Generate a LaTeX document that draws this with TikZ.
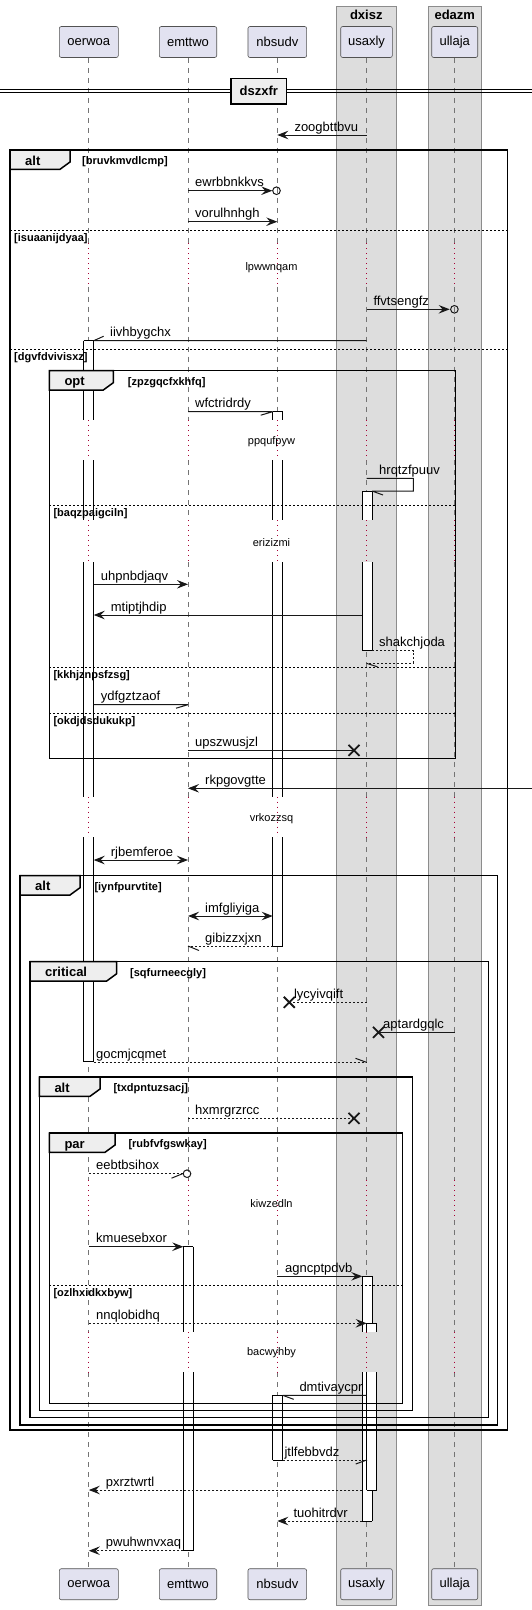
\documentclass[tikz,border=0pt]{standalone}
\usepackage{fontspec}
\setmainfont{Liberation Sans}
\usetikzlibrary{arrows.meta,calc,fit}
\definecolor{partfill}{HTML}{E2E2F0}
\definecolor{boxfill}{HTML}{DDDDDD}
\definecolor{tabfill}{HTML}{EEEEEE}
\definecolor{ink}{HTML}{181818}
\definecolor{delayc}{HTML}{A80036}
\tikzset{
 part/.style={draw=ink!75, line width=0.6pt, fill=partfill, rounded corners=2pt, minimum height=31pt, inner sep=0pt, font=\fontsize{13}{15}\selectfont},
 life/.style={draw=ink!60, line width=0.8pt, dash pattern=on 5pt off 5pt},
 dly/.style={draw=delayc, line width=1pt, dash pattern=on 1pt off 4pt},
 msg/.style={draw=ink, line width=1pt},
 dmsg/.style={msg, dash pattern=on 2pt off 2pt},
 arr/.style={-{Stealth[length=11pt,width=8.5pt,inset=4pt]}},
 darr/.style={{Stealth[length=11pt,width=8.5pt,inset=4pt]}-{Stealth[length=11pt,width=8.5pt,inset=4pt]}},
 lab/.style={inner sep=0pt, anchor=base west, font=\fontsize{13}{15}\selectfont, text=black},
 dlab/.style={inner sep=0pt, font=\fontsize{11}{13}\selectfont},
 kw/.style={inner sep=0pt, anchor=base west, font=\fontsize{13}{15}\selectfont\bfseries},
 cond/.style={inner sep=0pt, anchor=base west, font=\fontsize{11}{13}\selectfont\bfseries},
 frame/.style={draw=black, line width=1.5pt},
 sepl/.style={draw=black, line width=1pt, dash pattern=on 2pt off 2pt},
 actl/.style={draw=black, line width=1pt},
 xm/.style={draw=ink, line width=1.8pt},
 boxl/.style={draw=black!45, line width=1pt},
 actnode/.style={inner sep=0pt, outer sep=0pt}
}
\newcommand\grpframe[9]{%
 \draw[frame] (#1,#2) rectangle (#3,#4);
 \draw[frame,fill=tabfill] (#1,#2) -- (#5,#2) -- (#5,#2+12) -- (#5-10,#2+19.3) -- (#1,#2+19.3) -- cycle;
 \node[kw] (k#9) at (#1+15,#2+15) {#6};
 \node[cond] (c#9) at (#7,#2+14.3) {[#8]};
}
\newcommand\sepline[5]{%
 \draw[sepl] (#1,#3) -- (#2,#3);
 \node[cond] (#5) at (#1+4,#3+10.8) {[#4]};
}
\newcommand\actdef[5]{\node[actnode,fit={(#2,#4) (#3,#5)}] (#1) {};}
\newcommand\actseg[3]{%
 \fill[white] (#1.west |- 0,#2) rectangle (#1.east |- 0,#3);
 \draw[actl] (#1.west |- 0,#2) -- (#1.west |- 0,#3) (#1.east |- 0,#2) -- (#1.east |- 0,#3);
}
\newcommand\actcap[2]{\draw[actl] (#1.west |- 0,#2) -- (#1.east |- 0,#2);}
\newcommand\xcross[1]{\draw[xm] (#1) +(-5.5,-5.5) -- +(5.5,5.5) (#1) +(-5.5,5.5) -- +(5.5,-5.5);}
\begin{document}
\begin{tikzpicture}[x=1pt,y=-1pt]
\useasboundingbox (0,0) rectangle (532,1610);
\fill[white] (0,0) rectangle (532,1610);
% boxes
\fill[boxfill] (336.3,6) rectangle (396.3,1605);
\draw[boxl] (336.3,6) rectangle (396.3,1605);
\fill[boxfill] (428,6) rectangle (481.7,1605);
\draw[boxl] (428,6) rectangle (481.7,1605);
\node[kw,anchor=base] (g1) at (366.3,19) {dxisz};
\node[kw,anchor=base] (g2) at (454.8,19) {edazm};
% participants
\node[part,minimum width=59pt] (pA) at (88.8,42) {oerwoa};
\node[part,minimum width=57.4pt] (pB) at (188,42) {emttwo};
\node[part,minimum width=58.7pt] (pC) at (277.3,42) {nbsudv};
\node[part,minimum width=51.6pt] (pD) at (366.5,42) {usaxly};
\node[part,minimum width=46pt] (pE) at (454.7,42) {ullaja};
\node[part,minimum width=59pt] (qA) at (88.8,1584.2) {oerwoa};
\node[part,minimum width=57.4pt] (qB) at (188,1584.2) {emttwo};
\node[part,minimum width=58.7pt] (qC) at (277.3,1584.2) {nbsudv};
\node[part,minimum width=51.6pt] (qD) at (366.5,1584.2) {usaxly};
\node[part,minimum width=46pt] (qE) at (454.7,1584.2) {ullaja};
% lifelines
\foreach \p/\q in {pA/qA,pB/qB,pC/qC,pD/qD,pE/qE}{
 \draw[life] (\p.south) -- (\p |- 0,243.3) (\p |- 0,286.7) -- (\p |- 0,420) (\p |- 0,460) -- (\p |- 0,520) (\p |- 0,562) -- (\p |- 0,796.5) (\p |- 0,837.3) -- (\p |- 0,1180) (\p |- 0,1220) -- (\p |- 0,1331.7) (\p |- 0,1372.3) -- (\q.north);
 \draw[dly] (\p |- 0,243.3) -- (\p |- 0,286.7) (\p |- 0,420) -- (\p |- 0,460) (\p |- 0,520) -- (\p |- 0,562) (\p |- 0,796.5) -- (\p |- 0,837.3) (\p |- 0,1180) -- (\p |- 0,1220) (\p |- 0,1331.7) -- (\p |- 0,1372.3);
}
% divider
\draw[draw=black,line width=1pt] (0,89.3) -- (532,89.3) (0,92.7) -- (532,92.7);
\node[draw=black,line width=1.5pt,fill=tabfill,minimum width=55.7pt,minimum height=25.3pt,inner sep=0pt,font=\fontsize{13}{15}\selectfont\bfseries] (dv) at (258.8,91.3) {dszxfr};
% activations
\actdef{aA}{83.7}{93.7}{340.7}{1061.7}
\actdef{aC1}{272.7}{282.7}{411.7}{946}
\actdef{aD1}{362.3}{372}{491}{650.7}
\actdef{aB}{183.3}{193.3}{1246.7}{1550.7}
\actdef{aD2}{362.3}{372}{1276.3}{1521}
\actdef{aD3}{366.7}{376.7}{1323.3}{1490}
\actdef{aC2}{272.7}{282.7}{1395.3}{1460}
\actseg{aA}{340.7}{420}\actseg{aA}{460}{520}\actseg{aA}{562}{796.5}\actseg{aA}{837.3}{1061.7}
\actcap{aA}{340.7}\actcap{aA}{1061.7}
\actseg{aC1}{411.7}{420}\actseg{aC1}{460}{520}\actseg{aC1}{562}{796.5}\actseg{aC1}{837.3}{946}
\actcap{aC1}{411.7}\actcap{aC1}{946}
\actseg{aD1}{491}{520}\actseg{aD1}{562}{650.7}
\actcap{aD1}{491}\actcap{aD1}{650.7}
\actseg{aB}{1246.7}{1331.7}\actseg{aB}{1372.3}{1550.7}
\actcap{aB}{1246.7}\actcap{aB}{1550.7}
\actseg{aD2}{1276.3}{1331.7}\actseg{aD2}{1372.3}{1521}
\actcap{aD2}{1276.3}\actcap{aD2}{1521}
\actseg{aD3}{1323.3}{1331.7}\actseg{aD3}{1372.3}{1490}
\actcap{aD3}{1323.3}\actcap{aD3}{1490}
\actseg{aC2}{1395.3}{1460}
\actcap{aC2}{1395.3}\actcap{aC2}{1460}
% frames
\grpframe{10}{150}{507.7}{1430}{70}{alt}{82}{bruvkmvdlcmp}{f1}
\sepline{10}{507.7}{230.7}{isuaanijdyaa}{s1}
\sepline{10}{507.7}{349.3}{dgvfdvivisxz}{s2}
\grpframe{49.3}{370.7}{455.3}{758.3}{113.3}{opt}{127.7}{zpzgqcfxkhfq}{f2}
\sepline{49.3}{455.3}{505.3}{baqzpaigciln}{s3}
\sepline{49.3}{455.3}{667.3}{kkhjznpsfzsg}{s4}
\sepline{49.3}{455.3}{713.7}{okdjdsdukukp}{s5}
\grpframe{20}{875.7}{497.7}{1425}{80}{alt}{94.3}{iynfpurvtite}{f3}
\grpframe{30}{961.7}{488.3}{1417.7}{116.7}{critical}{130}{sqfurneecgly}{f4}
\grpframe{39.3}{1077}{412.7}{1410.7}{100}{alt}{113.3}{txdpntuzsacj}{f5}
\grpframe{49.3}{1133}{402.3}{1403.3}{115}{par}{128.3}{rubfvfgswkay}{f6}
\sepline{49.3}{402.3}{1285.3}{ozlhxidkxbyw}{s6}
% delay texts
\node[dlab] (d1) at (271.5,267.7) {lpwwnqam};
\node[dlab] (d2) at (271.5,441.7) {ppqufpyw};
\node[dlab] (d3) at (271.5,542.3) {erizizmi};
\node[dlab] (d4) at (271.5,819) {vrkozzsq};
\node[dlab] (d5) at (271.5,1204) {kiwzedln};
\node[dlab] (d6) at (271.5,1352.7) {bacwyhby};
% messages
\draw[msg,arr] (pD |- 0,135) -- (pC |- 0,135);
\node[lab] (m1) at (294.3,131.2) {zoogbttbvu};
\draw[msg,arr,shorten >=5pt] (pB |- 0,190.7) -- (pC |- 0,190.7);
\draw[msg] ($(pC |- 0,190.7)+(-0.8,0)$) circle (3.8pt);
\node[lab] (m2) at (195,186.9) {ewrbbnkkvs};
\draw[msg,arr] (pB |- 0,221.7) -- (pC |- 0,221.7);
\node[lab] (m3) at (195,217.9) {vorulhnhgh};
\draw[msg,arr,shorten >=5pt] (pD |- 0,309.3) -- (pE |- 0,309.3);
\draw[msg] ($(pE |- 0,309.3)+(-0.3,0)$) circle (3.8pt);
\node[lab] (m4) at (373.3,305.5) {ffvtsengfz};
\draw[msg] (pD |- 0,340.7) -- (aA.east |- 0,340.7) (aA.east |- 0,340.7) -- +(10,-4.5);
\node[lab] (m5) at (110,336.9) {iivhbygchx};
\draw[msg] (pB |- 0,411.7) -- (aC1.west |- 0,411.7) (aC1.west |- 0,411.7) -- +(-12,3.5);
\node[lab] (m6) at (195,407.9) {wfctridrdy};
\draw[msg] (pD |- 0,478.3) -- (413.3,478.3) -- (413.3,491) -- (aD1.east |- 0,491) (aD1.east |- 0,491) -- +(11,4);
\node[lab] (m7) at (379,474.5) {hrqtzfpuuv};
\draw[msg,arr] (aA.east |- 0,584.3) -- (pB |- 0,584.3);
\node[lab] (m8) at (100.7,580.5) {uhpnbdjaqv};
\draw[msg,arr] (aD1.west |- 0,615) -- (aA.east |- 0,615);
\node[lab] (m9) at (110.7,611.2) {mtiptjhdip};
\draw[dmsg] (aD1.east |- 0,650.7) -- (413.3,650.7) -- (413.3,663.3) -- (pD |- 0,663.3);
\draw[msg] (pD |- 0,663.3) -- +(11,3.5);
\node[lab] (m10) at (379,646.5) {shakchjoda};
\draw[msg] (aA.east |- 0,704.7) -- (pB |- 0,704.7) (pB |- 0,704.7) -- +(-12,3.5);
\node[lab] (m11) at (100.7,700.9) {ydfgztzaof};
\coordinate (x12) at ($(pD |- 0,750.3)+(-12.5,0)$);
\draw[msg] (pB |- 0,750.3) -- (x12);
\xcross{x12}
\node[lab] (m12) at (195,746.5) {upszwusjzl};
\coordinate (ext) at (532,788.3);
\draw[msg,arr] (ext) -- (pB |- 0,788.3);
\node[lab] (m13) at (205,784.5) {rkpgovgtte};
\draw[msg,darr] (aA.east |- 0,860) -- (pB |- 0,860);
\node[lab] (m14) at (110.7,856.2) {rjbemferoe};
\draw[msg,darr] (pB |- 0,916) -- (aC1.west |- 0,916);
\node[lab] (m15) at (205,912.2) {imfgliyiga};
\draw[dmsg] (aC1.west |- 0,946) -- (pB |- 0,946);
\draw[msg] (pB |- 0,946) -- +(11,4.5);
\node[lab] (m16) at (205,942.2) {gibizzxjxn};
\coordinate (x17) at ($(pC |- 0,1002.3)+(12,0)$);
\draw[dmsg] (pD |- 0,1002.3) -- (x17);
\xcross{x17}
\node[lab] (m17) at (293.8,998.5) {lycyivqift};
\coordinate (x18) at ($(pD |- 0,1032.3)+(12,0)$);
\draw[msg] (pE |- 0,1032.3) -- (x18);
\xcross{x18}
\node[lab] (m18) at (383,1028.5) {aptardgqlc};
\draw[dmsg] (aA.east |- 0,1062.3) -- (pD |- 0,1062.3);
\draw[msg] (pD |- 0,1062.3) -- +(-11,-4);
\node[lab] (m19) at (96,1058.5) {gocmjcqmet};
\coordinate (x20) at ($(pD |- 0,1118.3)+(-12.5,0)$);
\draw[dmsg] (pB |- 0,1118.3) -- (x20);
\xcross{x20}
\node[lab] (m20) at (195,1114.5) {hxmrgrzrcc};
\coordinate (t21) at ($(pB |- 0,1173.7)+(-5.5,0)$);
\draw[dmsg] (pA |- 0,1173.7) -- (t21);
\draw[msg] (t21) -- +(-11,4.5);
\draw[msg] ($(pB |- 0,1173.7)+(-1,0)$) circle (3.8pt);
\node[lab] (m21) at (96,1169.9) {eebtbsihox};
\draw[msg,arr] (pA |- 0,1246.7) -- (aB.west |- 0,1246.7);
\node[lab] (m22) at (96,1242.9) {kmuesebxor};
\draw[msg,arr] (pC |- 0,1276.3) -- (aD2.west |- 0,1276.3);
\node[lab] (m23) at (285,1272.5) {agncptpdvb};
\draw[dmsg,arr] (pA |- 0,1323.3) -- (aD3.west |- 0,1323.3);
\node[lab] (m24) at (96,1319.5) {nnqlobidhq};
\draw[msg] (pD |- 0,1395.3) -- (aC2.east |- 0,1395.3) (aC2.east |- 0,1395.3) -- +(11,4);
\node[lab] (m25) at (299.3,1391.5) {dmtivaycpr};
\draw[dmsg] (aC2.east |- 0,1460) -- (aD3.west |- 0,1460);
\draw[msg] (aD3.west |- 0,1460) -- +(-11,4);
\node[lab] (m26) at (284.3,1456.2) {jtlfebbvdz};
\draw[dmsg,arr] (aD2.west |- 0,1490) -- (pA |- 0,1490);
\node[lab] (m27) at (105.7,1486.2) {pxrztwrtl};
\draw[dmsg,arr] (aD2.west |- 0,1521) -- (pC |- 0,1521);
\node[lab] (m28) at (293.3,1517.2) {tuohitrdvr};
\draw[dmsg,arr] (aB.west |- 0,1550.7) -- (pA |- 0,1550.7);
\node[lab] (m29) at (105.7,1546.9) {pwuhwnvxaq};
\end{tikzpicture}
\end{document}
